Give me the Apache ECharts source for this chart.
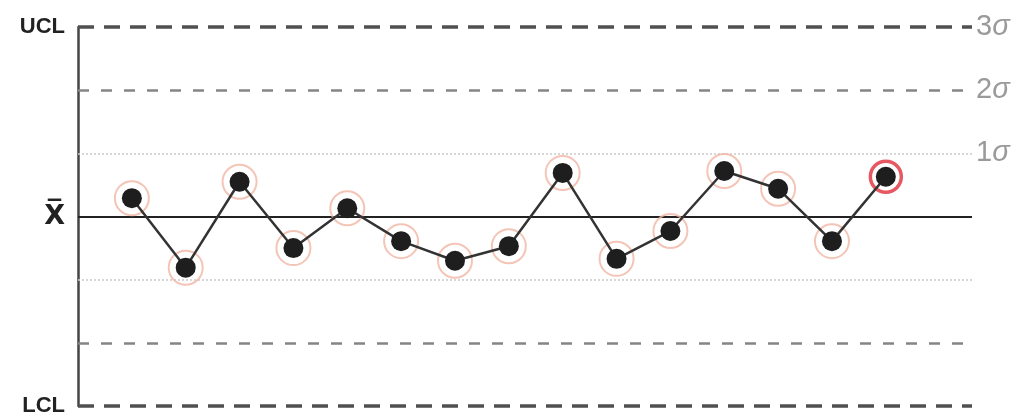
<!DOCTYPE html>
<html>
<head>
<meta charset="utf-8">
<script src="https://cdn.jsdelivr.net/npm/echarts@6/dist/echarts.min.js"></script>
<style>html,body{margin:0;padding:0;background:#fff}#c{width:1024px;height:419px}</style>
</head>
<body>
<div id="c"></div>
<script>
// sample numbers and measured values (in sigma units from the centre line)
var samples = [1,2,3,4,5,6,7,8,9,10,11,12,13,14,15];
var values = [0.29,-0.81,0.55,-0.50,0.13,-0.39,-0.70,-0.47,0.69,-0.67,-0.23,0.72,0.44,-0.39,0.63];
var flagged = [15];
var levels = [3,2,1,0,-1,-2,-3];
var leftLabels = {'3':'UCL','0':'X\u0305','-3':'LCL'};
var rightLabels = {'3':'3','2':'2','1':'1'};

var chart = echarts.init(document.getElementById('c'));
var pts = samples.map(function(s,i){return [s, values[i]];});
var ringPts = samples.map(function(s,i){
  var red = flagged.indexOf(s) >= 0;
  return {value:[s, values[i]], symbolSize: red ? 31 : 34,
    itemStyle: red ? {color:'rgba(0,0,0,0)', borderColor:'#e0303c', borderWidth:3.5}
                   : {color:'rgba(0,0,0,0)', borderColor:'#f1b7a5', borderWidth:2}};
});
function lineStyleFor(v){
  var a = Math.abs(v);
  if (a === 3) return {color:'#505050', width:3.5, type:[16,10]};
  if (a === 2) return {color:'#858585', width:2.5, type:[11,12]};
  if (a === 1) return {color:'#cacaca', width:1.5, type:[2,2]};
  return {color:'#222', width:2, type:'solid'};
}
chart.setOption({
  animation:false,
  backgroundColor:'#fff',
  grid:{left:78, right:52, top:27, bottom:13},
  xAxis:{type:'value', min:0, max:16.6, show:false},
  yAxis:[{
    type:'value', min:-3, max:3, interval:1, position:'left',
    axisLine:{show:true, lineStyle:{color:'#444', width:2.5}},
    axisTick:{show:false}, splitLine:{show:false},
    axisLabel:{margin:13, color:'#222', fontFamily:'Liberation Sans, Arial', fontWeight:'bold', fontSize:22,
      formatter:function(v){ var t = leftLabels[String(v)]; if(!t) return ''; return v===0 ? '{x|'+t+'}' : t; },
      rich:{x:{fontSize:27, fontWeight:'bold', color:'#222', fontFamily:'DejaVu Sans'}}}
  },{
    type:'value', min:-3, max:3, interval:1, position:'right',
    axisLine:{show:false}, axisTick:{show:false}, splitLine:{show:false},
    axisLabel:{margin:4, color:'#999', fontFamily:'Liberation Sans, Arial', fontSize:28,
      formatter:function(v){ var t = rightLabels[String(v)]; return t ? '{n|'+t+'}{s|\u03c3}' : ''; },
      rich:{n:{fontSize:29, color:'#9a9a9a'}, s:{fontSize:29, color:'#9a9a9a', fontStyle:'italic'}}}
  }],
  series:[{
    type:'scatter', z:2, symbol:'circle', data:ringPts, silent:true
  },{
    type:'line', z:3, data:pts, symbol:'circle', symbolSize:20,
    itemStyle:{color:'#1e1e1e'},
    lineStyle:{color:'#333', width:2.5},
    markLine:{silent:true, symbol:'none', label:{show:false}, z:1,
      data:levels.map(function(v){return {yAxis:v, lineStyle:lineStyleFor(v)};})}
  }]
});
</script>
</body>
</html>
